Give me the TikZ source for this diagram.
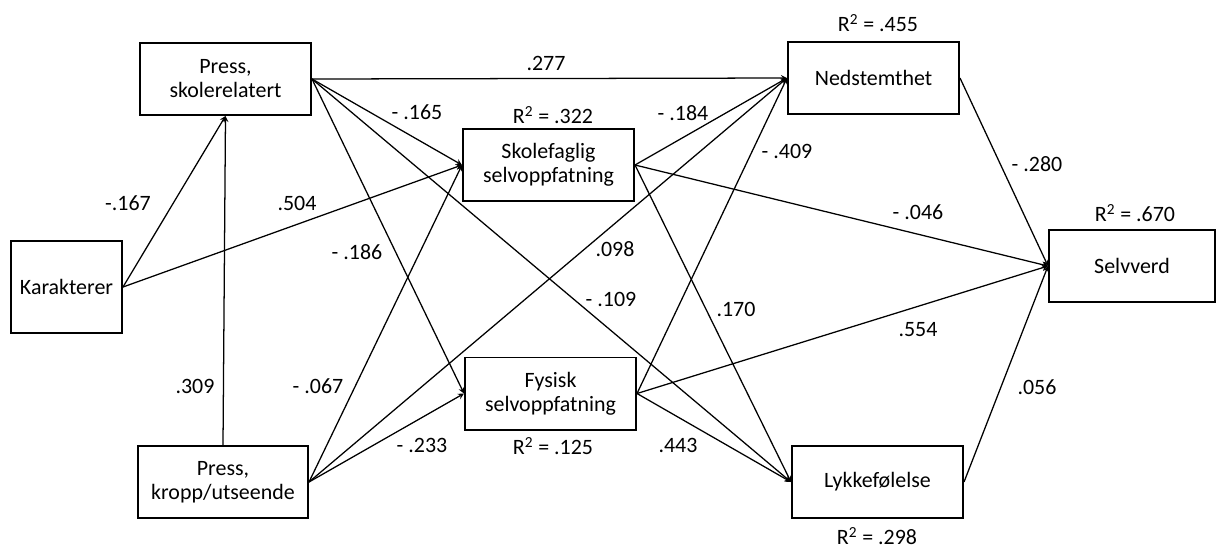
\documentclass[tikz,border=0pt]{standalone}
\usepackage{fontspec}
\setmainfont{Carlito}
\usetikzlibrary{arrows}
\newcommand{\vartext}{\fontsize{15.6}{17.1}\selectfont}
\tikzset{
    var/.style={rectangle, draw=black, line width=1.4pt, minimum width=4.275cm, minimum height=1.8cm, align=center, font=\vartext},
    arrow/.style={line width=0.9pt,->,>=stealth},
    coef/.style={font=\vartext}
}

\begin{document}
\begin{tikzpicture}[x=0.025cm, y=-0.025cm]
    \useasboundingbox (0,0) rectangle (1217,549);

    % Variables
    \node[var] (pskole) at (225.5,79) {Press,\\skolerelatert};
    \node[var, minimum width=2.775cm, minimum height=2.3cm] (kar) at (66.5,287) {Karakterer};
    \node[var, minimum width=4.25cm] (pkropp) at (223,482) {Press,\\kropp/utseende};
    \node[var] (skole) at (548.5,165) {Skolefaglig\\selvoppfatning};
    \node[var] (fysisk) at (550.5,393.5) {Fysisk\\selvoppfatning};
    \node[var] (ned) at (873.5,78) {Nedstemthet};
    \node[var] (lykke) at (877.5,482) {Lykkefølelse};
    \node[var, minimum width=4.15cm] (selv) at (1132,266) {Selvverd};

    % Paths
    \draw[arrow] (kar.east) -- (pskole.south);
    \draw[arrow] (pkropp.north) -- (pskole.south);
    \foreach \from/\to in {kar/skole, pskole/ned, pskole/skole, pskole/fysisk, pskole/lykke,
        pkropp/skole, pkropp/fysisk, pkropp/ned, skole/ned, skole/selv, skole/lykke,
        fysisk/ned, fysisk/lykke, fysisk/selv, ned/selv, lykke/selv} {
        \draw[arrow] (\from.east) -- (\to.west);
    }

    % Path coefficients
    \node[coef] (c167) at (128,203) {-.167};
    \node[coef] (c504) at (297,203) {.504};
    \node[coef] (c309) at (195,386) {.309};
    \node[coef] (c277) at (546,63) {.277};
    \node[coef] (c165) at (417,112) {- .165};
    \node[coef] (c186) at (357,252) {- .186};
    \node[coef] (c067) at (318,386) {- .067};
    \node[coef] (c233) at (422,445) {- .233};
    \node[coef] (c184) at (683,113) {- .184};
    \node[coef] (c409) at (787,151) {- .409};
    \node[coef] (c098) at (615,249) {.098};
    \node[coef] (c109) at (611,299) {- .109};
    \node[coef] (c170) at (736,309) {.170};
    \node[coef] (c443) at (678,445) {.443};
    \node[coef] (c046) at (918,212) {- .046};
    \node[coef] (c280) at (1037,164) {- .280};
    \node[coef] (c554) at (918,330) {.554};
    \node[coef] (c056) at (1037,387) {.056};

    % Explained variance
    \node[coef] (rskole) at (553,115) {R\textsuperscript{2} = .322};
    \node[coef] (rfysisk) at (553,446) {R\textsuperscript{2} = .125};
    \node[coef] (rned) at (878,23) {R\textsuperscript{2} = .455};
    \node[coef] (rlykke) at (877,536) {R\textsuperscript{2} = .298};
    \node[coef] (rselv) at (1135,213) {R\textsuperscript{2} = .670};
\end{tikzpicture}
\end{document}
